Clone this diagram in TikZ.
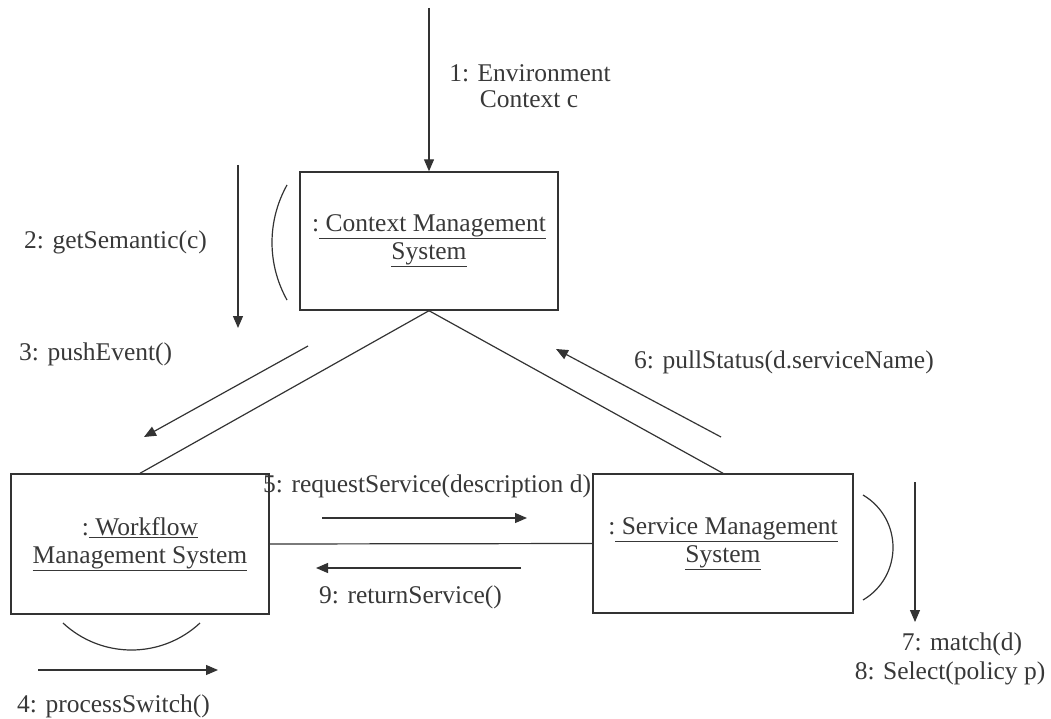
\documentclass[tikz,border=0pt]{standalone}
\usepackage{fontspec}
\setmainfont{Liberation Serif}
\usetikzlibrary{arrows.meta}
\definecolor{ln}{gray}{0.2}
\definecolor{txt}{gray}{0.22}
\begin{document}
\begin{tikzpicture}[x=1pt,y=-1pt,
  every node/.style={font=\fontsize{25.5}{28}\selectfont, text=txt},
  obj/.style={draw=ln, line width=1.4pt, align=center, inner sep=0pt},
  link/.style={draw=ln, line width=1.2pt},
  msg/.style={draw=ln, line width=1.2pt, -{Triangle[length=12pt,width=10pt]}},
  lbl/.style={inner sep=0pt, anchor=west},
]
\useasboundingbox (0,0) rectangle (1051,719);

% objects
\node[obj, minimum width=258pt, minimum height=138pt] (ctx) at (429,241)
  {:\underline{\ Context Management}\\\underline{System}};
\node[obj, minimum width=258pt, minimum height=140pt] (wf) at (140,544)
  {:\underline{\ Workflow}\\\underline{Management System}};
\node[obj, minimum width=260pt, minimum height=139pt] (svc) at (723,543.5)
  {:\underline{\ Service Management}\\\underline{System}};

% links between objects
\draw[link] (ctx.south) -- (wf.north);
\draw[link] (ctx.south) -- (svc.north);
\draw[link] (wf.east) -- (svc.west);

% self-link arcs
\draw[link] (287,185) .. controls (267,221) and (267,264) .. (287,300);
\draw[link] (63,623) .. controls (101.6,659) and (161.4,659) .. (200,623);
\draw[link] (863,495) .. controls (903,518.7) and (903,576.3) .. (863,600);

% message arrow end points
\coordinate (m1s) at (429,8);
\coordinate (m2s) at (238,165);  \coordinate (m2e) at (238,328);
\coordinate (m3s) at (308,346);  \coordinate (m3e) at (144,437);
\coordinate (m6s) at (721,437);  \coordinate (m6e) at (556,349);
\coordinate (m5s) at (322,518);  \coordinate (m5e) at (527,518);
\coordinate (m9s) at (521,568);  \coordinate (m9e) at (316,568);
\coordinate (m4s) at (38,670);   \coordinate (m4e) at (218,670);
\coordinate (m7s) at (915,482);  \coordinate (m7e) at (915,622);

\draw[msg] (m1s) -- (ctx.north);
\draw[msg] (m2s) -- (m2e);
\draw[msg] (m3s) -- (m3e);
\draw[msg] (m6s) -- (m6e);
\draw[msg] (m5s) -- (m5e);
\draw[msg] (m9s) -- (m9e);
\draw[msg] (m4s) -- (m4e);
\draw[msg] (m7s) -- (m7e);

% message labels
\node[inner sep=0pt] (t1a) at (530,73) {1: Environment};
\node[inner sep=0pt] (t1b) at (529,99) {Context c};
\node[lbl] (t2) at (24,242) {2: getSemantic(c)};
\node[lbl] (t3) at (19,354) {3: pushEvent()};
\node[lbl] (t6) at (634,362) {6: pullStatus(d.serviceName)};
\node[lbl] (t5) at (263,486) {5: requestService(description d)};
\node[lbl] (t9) at (319,597) {9: returnService()};
\node[lbl] (t4) at (17,706) {4: processSwitch()};
\node[inner sep=0pt] (t7) at (962,644) {7: match(d)};
\node[inner sep=0pt] (t8) at (950,673) {8: Select(policy p)};
\end{tikzpicture}
\end{document}
